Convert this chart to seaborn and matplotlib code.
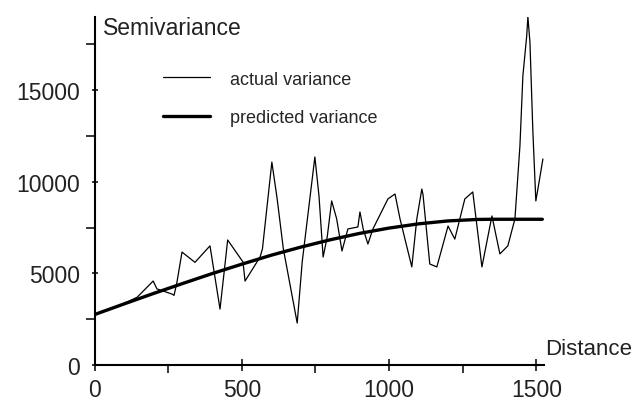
import numpy as np
import seaborn as sns
import matplotlib.pyplot as plt
import pandas as pd

actual_dist = [0, 50, 100, 145, 199, 212, 263, 270, 280, 297, 341, 392, 426, 443, 452,
               504, 511, 562, 570, 602, 620, 641, 688, 705, 748, 762, 776, 790, 805, 822,
               840, 860, 894, 901, 912, 928, 945, 996, 1020, 1037, 1077, 1094, 1111, 1115,
               1138, 1162, 1200, 1223, 1240, 1257, 1284, 1315, 1349, 1376, 1403, 1427,
               1444, 1454, 1467, 1471, 1478, 1488, 1498, 1505, 1522]
actual_var = [2750, 3050, 3350, 3700, 4580, 4150, 3870, 3800, 4530, 6160, 5600, 6500, 3050, 5500, 6820,
              5620, 4580, 5890, 6330, 11070, 9060, 6330, 2290, 5620, 11350, 9220, 5890, 7000, 8950, 7970,
              6220, 7420, 7530, 8350, 7420, 6600, 7420, 9060, 9330, 7970, 5350, 7970, 9600, 9300,
              5510, 5350, 7580, 6870, 7970, 9060, 9440, 5350, 8130, 6060, 6500, 7970,
              11950, 15770, 17950, 19000, 17600, 12700, 8950, 9600, 11240]

# fitted model curve
pred_dist = [0, 100, 200, 300, 400, 500, 600, 700, 800, 900, 1000, 1100, 1200, 1300, 1350, 1520]
pred_var = [2750, 3330, 3900, 4450, 4990, 5500, 5990, 6430, 6830, 7180, 7470, 7700, 7860, 7940, 7950, 7950]

df_act = pd.DataFrame({'dist': actual_dist, 'var': actual_var})
df_pred = pd.DataFrame({'dist': pred_dist, 'var': pred_var})

sns.set_style('white')
plt.rcParams['font.family'] = ['Liberation Sans', 'DejaVu Sans']

fig = plt.figure(figsize=(6.38, 4.02), dpi=100)
ax = fig.add_axes([94.5 / 638, 36 / 402, 449 / 638, 348.3 / 402])

sns.lineplot(data=df_act, x='dist', y='var', color='black', lw=0.9, sort=False,
             estimator=None, ax=ax, label='actual variance')
sns.lineplot(data=df_pred, x='dist', y='var', color='black', lw=2.4, sort=False,
             estimator=None, ax=ax, label='predicted variance')

ax.set_xlim(0, 1524)
ax.set_ylim(0, 19000)
ax.set_xlabel('')
ax.set_ylabel('')
for s in ['top', 'right']:
    ax.spines[s].set_visible(False)
for s in ['left', 'bottom']:
    ax.spines[s].set_linewidth(1.5)
    ax.spines[s].set_color('black')

ax.set_xticks([0, 500, 1000, 1500])
ax.set_xticks([250, 750, 1250], minor=True)
ax.set_yticks([0, 5000, 10000, 15000])
ax.set_yticks([2500, 7500, 12500, 17500], minor=True)
ax.tick_params(axis='x', which='major', direction='inout', length=9, width=1.3, pad=5,
               labelsize=16.5, labelcolor='#222222', bottom=True)
ax.tick_params(axis='x', which='minor', direction='out', length=6, width=1.3, bottom=True)
ax.tick_params(axis='y', which='major', direction='inout', length=5, width=1.3, pad=8,
               labelsize=16.5, labelcolor='#222222', left=True)
ax.tick_params(axis='y', which='minor', direction='out', length=6.5, width=1.3, left=True)

ax.legend(loc='upper left', bbox_to_anchor=(163 / 638, 0.822), bbox_transform=fig.transFigure,
          frameon=False, fontsize=13, handlelength=2.6, handletextpad=1.1,
          labelspacing=1.2, borderpad=0, borderaxespad=0)

fig.text(103 / 638, (402 - 35) / 402, 'Semivariance', fontsize=16.5, color='#222222', va='baseline')
fig.text(545 / 638, (402 - 355) / 402, 'Distance', fontsize=16, color='#222222', va='baseline')

plt.savefig('out.png', dpi=100)
